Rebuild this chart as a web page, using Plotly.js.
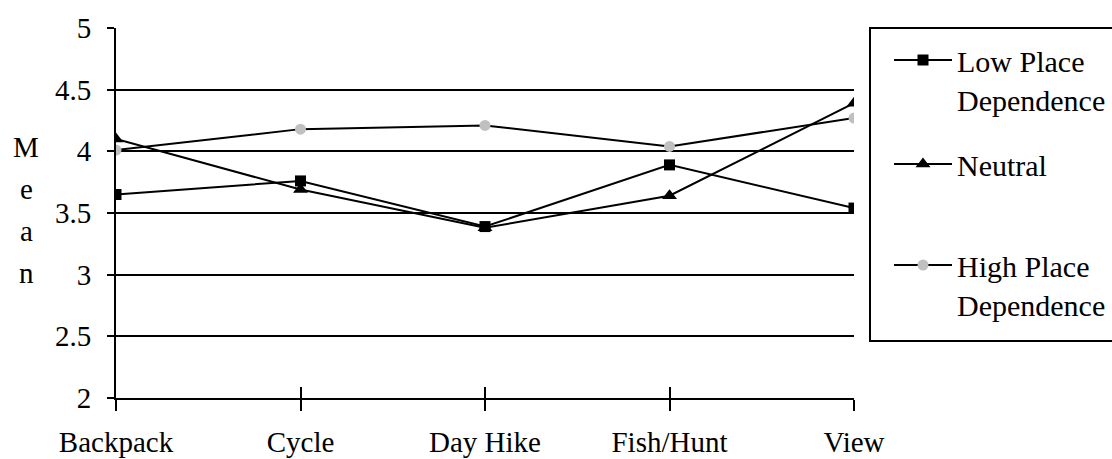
<!DOCTYPE html>
<html>
<head>
<meta charset="utf-8">
<script src="https://cdn.plot.ly/plotly-3.0.1.min.js"></script>
<style>html,body{margin:0;padding:0;background:#fff;}#chart{width:1112px;height:459px;}</style>
</head>
<body>
<div id="chart"></div>
<script>
// ---- data ----
const categories = ["Backpack", "Cycle", "Day Hike", "Fish/Hunt", "View"];
const lowPlaceDependence = [3.65, 3.76, 3.39, 3.89, 3.54];
const neutral = [4.10, 3.69, 3.38, 3.64, 4.39];
const highPlaceDependence = [4.01, 4.18, 4.21, 4.04, 4.27];
const seriesNames = ["Low Place<br>Dependence", "Neutral", "High Place<br>Dependence"];
const yTickVals = [2, 2.5, 3, 3.5, 4, 4.5, 5];
const yTickText = ["2", "2.5", "3", "3.5", "4", "4.5", "5"];
const gridVals = [2.5, 3, 3.5, 4, 4.5];
const topTick = [5];
const yTitle = "Mean";

// ---- layout helpers ----
const W = 1112, H = 459;
const L = 116, R = 258, T = 28, B = 61;
const pw = W - L - R, ph = H - T - B;
const px2x = p => (p - L) / pw;
const py2y = p => (H - B - p) / ph;
const xIdx = categories.map((c, i) => i);
const FONT = "Liberation Serif";

const lineStyle = {color: "#000", width: 2};
const traces = [
  {x: xIdx, y: lowPlaceDependence, name: seriesNames[0], mode: "lines+markers", type: "scatter",
   line: lineStyle, marker: {symbol: "square", size: 11, color: "#000"}, legend: "legend"},
  {x: xIdx, y: neutral, name: seriesNames[1], mode: "lines+markers", type: "scatter",
   line: lineStyle, marker: {symbol: "triangle-up", size: 13, color: "#000"}, legend: "legend2"},
  {x: xIdx, y: highPlaceDependence, name: seriesNames[2], mode: "lines+markers", type: "scatter",
   line: lineStyle, marker: {symbol: "circle", size: 11, color: "#c0c0c0"}, legend: "legend3"},
  {x: [], y: [], xaxis: "x2", yaxis: "y2", showlegend: false, hoverinfo: "skip", type: "scatter"},
  {x: [], y: [], xaxis: "x", yaxis: "y3", showlegend: false, hoverinfo: "skip", type: "scatter"}
];

const legendBase = {
  xanchor: "left", yanchor: "top", bgcolor: "rgba(0,0,0,0)", borderwidth: 0,
  font: {family: FONT, size: 30, color: "#000"}, itemwidth: 58, valign: "top",
  itemclick: false, itemdoubleclick: false
};
const legX = px2x(889);

const annotations = yTitle.split("").map((ch, i) => ({
  text: ch, xref: "paper", yref: "paper", x: px2x(26), y: py2y(147 + i * 42),
  xanchor: "center", yanchor: "middle", showarrow: false,
  font: {family: FONT, size: 29, color: "#000"}
}));

const layout = {
  width: W, height: H,
  margin: {l: L, r: R, t: T, b: B, autoexpand: false},
  paper_bgcolor: "#fff", plot_bgcolor: "#fff",
  font: {family: FONT, size: 29, color: "#000"},
  showlegend: true,
  xaxis: {
    range: [0, 4], tickmode: "array", tickvals: xIdx, ticktext: categories,
    ticks: "outside", ticklen: 11, tickwidth: 2, tickcolor: "#000",
    showline: true, linewidth: 2, linecolor: "#000", showgrid: false, zeroline: false,
    ticklabelstandoff: 6, fixedrange: true
  },
  yaxis: {
    range: [2, 5], tickmode: "array", tickvals: yTickVals, ticktext: yTickText,
    ticks: "outside", ticklen: 7, tickwidth: 2, tickcolor: "#000",
    showline: true, linewidth: 2, linecolor: "#000", showgrid: false, zeroline: false,
    ticklabelstandoff: 10, fixedrange: true
  },
  xaxis2: {
    overlaying: "x", anchor: "y2", side: "bottom", range: [0, 4],
    tickmode: "array", tickvals: xIdx, ticks: "inside", ticklen: 11, tickwidth: 2, tickcolor: "#000",
    showticklabels: false, showline: false, showgrid: false, zeroline: false, fixedrange: true
  },
  yaxis2: {
    overlaying: "y", anchor: "x2", side: "left", range: [2, 5],
    tickmode: "array", tickvals: gridVals, ticks: "", showticklabels: false,
    showline: false, showgrid: true, gridcolor: "#000", gridwidth: 2, zeroline: false, fixedrange: true
  },
  yaxis3: {
    overlaying: "y", anchor: "x", side: "left", range: [2, 5],
    tickmode: "array", tickvals: topTick, ticks: "inside", ticklen: 14, tickwidth: 2, tickcolor: "#000",
    showticklabels: false, showline: false, showgrid: false, zeroline: false, fixedrange: true
  },
  legend: Object.assign({}, legendBase, {x: legX, y: py2y(34)}),
  legend2: Object.assign({}, legendBase, {x: legX, y: py2y(138)}),
  legend3: Object.assign({}, legendBase, {x: legX, y: py2y(239)}),
  shapes: [{
    type: "rect", xref: "paper", yref: "paper",
    x0: px2x(870), x1: px2x(1130), y0: py2y(341), y1: py2y(28),
    line: {color: "#000", width: 2}, fillcolor: "rgba(0,0,0,0)", layer: "above"
  }],
  annotations: annotations
};

Plotly.newPlot("chart", traces, layout, {displayModeBar: false, staticPlot: true});
</script>
</body>
</html>
